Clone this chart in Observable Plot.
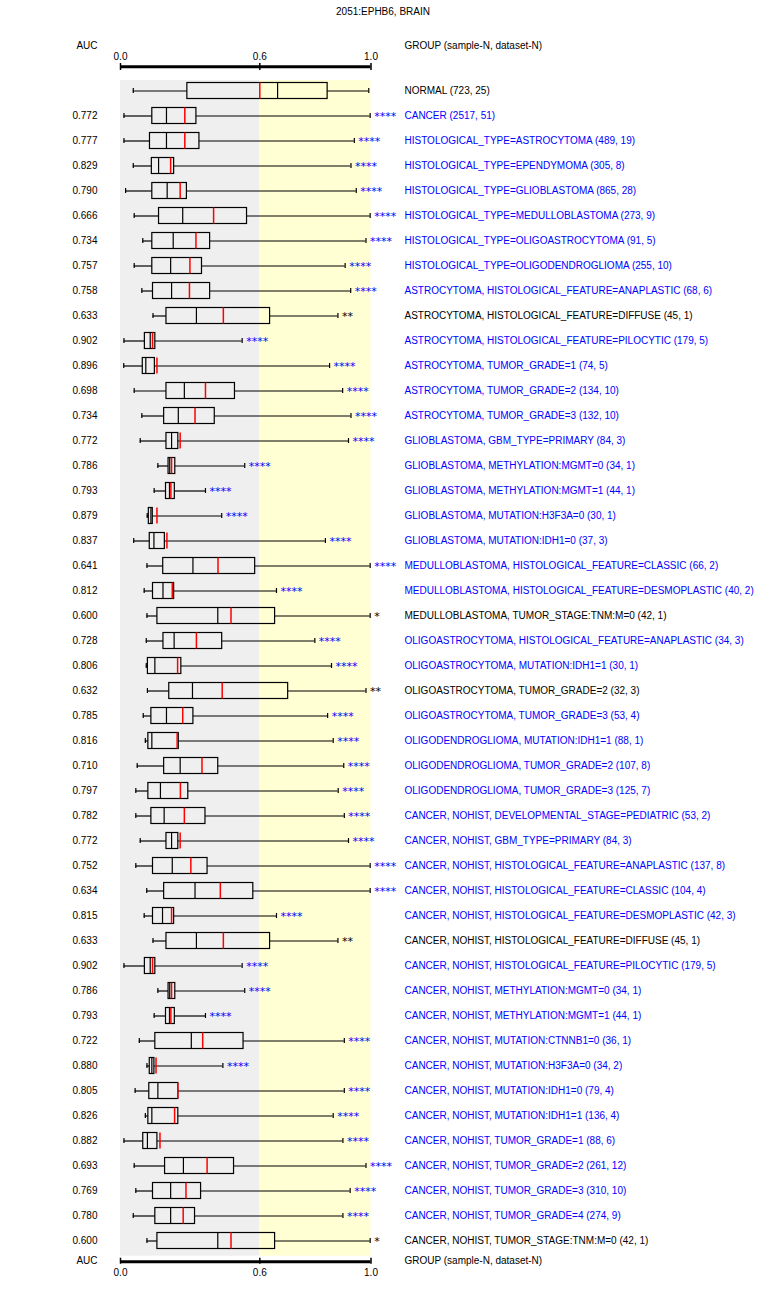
<!DOCTYPE html>
<html><head><meta charset="utf-8">
<script src="https://cdn.jsdelivr.net/npm/d3@7"></script>
<script src="https://cdn.jsdelivr.net/npm/@observablehq/plot@0.6"></script>
<style>
body{margin:0;background:#fff;font-family:"Liberation Sans",Arial,sans-serif;}
#title{height:24px;line-height:24px;text-align:center;font-size:10px;color:#000;width:766px;}
#chart svg{display:block;}
</style></head><body>
<div id="title">2051:EPHB6, BRAIN</div>
<div id="chart"></div>
<script>
const groups = [
  "NORMAL","CANCER",
  "HISTOLOGICAL_TYPE=ASTROCYTOMA","HISTOLOGICAL_TYPE=EPENDYMOMA","HISTOLOGICAL_TYPE=GLIOBLASTOMA",
  "HISTOLOGICAL_TYPE=MEDULLOBLASTOMA","HISTOLOGICAL_TYPE=OLIGOASTROCYTOMA","HISTOLOGICAL_TYPE=OLIGODENDROGLIOMA",
  "ASTROCYTOMA, HISTOLOGICAL_FEATURE=ANAPLASTIC","ASTROCYTOMA, HISTOLOGICAL_FEATURE=DIFFUSE",
  "ASTROCYTOMA, HISTOLOGICAL_FEATURE=PILOCYTIC","ASTROCYTOMA, TUMOR_GRADE=1","ASTROCYTOMA, TUMOR_GRADE=2",
  "ASTROCYTOMA, TUMOR_GRADE=3","GLIOBLASTOMA, GBM_TYPE=PRIMARY","GLIOBLASTOMA, METHYLATION:MGMT=0",
  "GLIOBLASTOMA, METHYLATION:MGMT=1","GLIOBLASTOMA, MUTATION:H3F3A=0","GLIOBLASTOMA, MUTATION:IDH1=0",
  "MEDULLOBLASTOMA, HISTOLOGICAL_FEATURE=CLASSIC","MEDULLOBLASTOMA, HISTOLOGICAL_FEATURE=DESMOPLASTIC",
  "MEDULLOBLASTOMA, TUMOR_STAGE:TNM:M=0","OLIGOASTROCYTOMA, HISTOLOGICAL_FEATURE=ANAPLASTIC",
  "OLIGOASTROCYTOMA, MUTATION:IDH1=1","OLIGOASTROCYTOMA, TUMOR_GRADE=2","OLIGOASTROCYTOMA, TUMOR_GRADE=3",
  "OLIGODENDROGLIOMA, MUTATION:IDH1=1","OLIGODENDROGLIOMA, TUMOR_GRADE=2","OLIGODENDROGLIOMA, TUMOR_GRADE=3",
  "CANCER, NOHIST, DEVELOPMENTAL_STAGE=PEDIATRIC","CANCER, NOHIST, GBM_TYPE=PRIMARY",
  "CANCER, NOHIST, HISTOLOGICAL_FEATURE=ANAPLASTIC","CANCER, NOHIST, HISTOLOGICAL_FEATURE=CLASSIC",
  "CANCER, NOHIST, HISTOLOGICAL_FEATURE=DESMOPLASTIC","CANCER, NOHIST, HISTOLOGICAL_FEATURE=DIFFUSE",
  "CANCER, NOHIST, HISTOLOGICAL_FEATURE=PILOCYTIC","CANCER, NOHIST, METHYLATION:MGMT=0",
  "CANCER, NOHIST, METHYLATION:MGMT=1","CANCER, NOHIST, MUTATION:CTNNB1=0","CANCER, NOHIST, MUTATION:H3F3A=0",
  "CANCER, NOHIST, MUTATION:IDH1=0","CANCER, NOHIST, MUTATION:IDH1=1","CANCER, NOHIST, TUMOR_GRADE=1",
  "CANCER, NOHIST, TUMOR_GRADE=2","CANCER, NOHIST, TUMOR_GRADE=3","CANCER, NOHIST, TUMOR_GRADE=4",
  "CANCER, NOHIST, TUMOR_STAGE:TNM:M=0"
];
const sampleN  = [723,2517,489,305,865,273,91,255,68,45,179,74,134,132,84,34,44,30,37,66,40,42,34,30,32,53,88,107,125,53,84,137,104,42,45,179,34,44,36,34,79,136,88,261,310,274,42];
const datasetN = [25,51,19,8,28,9,5,10,6,1,5,5,10,10,3,1,1,1,3,2,2,1,3,1,3,4,1,8,7,2,3,8,4,3,1,5,1,1,1,2,4,4,6,12,10,9,1];
const auc = [null,0.772,0.777,0.829,0.790,0.666,0.734,0.757,0.758,0.633,0.902,0.896,0.698,0.734,0.772,0.786,0.793,0.879,0.837,0.641,0.812,0.600,0.728,0.806,0.632,0.785,0.816,0.710,0.797,0.782,0.772,0.752,0.634,0.815,0.633,0.902,0.786,0.793,0.722,0.880,0.805,0.826,0.882,0.693,0.769,0.780,0.600];
const whiskerLow  = [0.055,0.015,0.015,0.055,0.022,0.059,0.096,0.059,0.092,0.140,0.015,0.014,0.059,0.092,0.085,0.161,0.145,0.115,0.057,0.114,0.102,0.114,0.111,0.111,0.116,0.098,0.107,0.072,0.066,0.066,0.085,0.066,0.113,0.102,0.140,0.015,0.161,0.145,0.081,0.114,0.063,0.107,0.015,0.059,0.066,0.055,0.114];
const quartile1   = [0.288,0.137,0.127,0.135,0.137,0.166,0.137,0.137,0.140,0.198,0.105,0.096,0.198,0.188,0.198,0.207,0.196,0.122,0.126,0.184,0.140,0.159,0.185,0.118,0.210,0.133,0.120,0.188,0.120,0.133,0.198,0.140,0.188,0.140,0.198,0.105,0.207,0.196,0.150,0.126,0.124,0.120,0.098,0.192,0.140,0.150,0.159];
const median      = [0.664,0.198,0.198,0.164,0.201,0.268,0.227,0.216,0.220,0.327,0.128,0.109,0.275,0.249,0.220,0.212,0.211,0.131,0.144,0.312,0.183,0.419,0.231,0.148,0.310,0.198,0.135,0.257,0.172,0.188,0.220,0.223,0.321,0.181,0.327,0.128,0.212,0.211,0.305,0.135,0.161,0.135,0.116,0.271,0.216,0.216,0.419];
const quartile3   = [0.844,0.327,0.340,0.231,0.286,0.545,0.386,0.351,0.386,0.637,0.150,0.148,0.493,0.406,0.249,0.236,0.234,0.139,0.191,0.580,0.231,0.655,0.438,0.262,0.702,0.314,0.251,0.421,0.292,0.366,0.249,0.375,0.572,0.231,0.637,0.150,0.236,0.234,0.530,0.146,0.249,0.249,0.159,0.489,0.347,0.321,0.655];
const whiskerHigh = [0.992,0.997,0.940,0.928,0.947,0.997,0.982,0.907,0.927,0.881,0.524,0.851,0.898,0.928,0.919,0.535,0.366,0.436,0.836,0.997,0.660,0.997,0.798,0.858,0.982,0.844,0.864,0.902,0.882,0.904,0.919,0.997,0.997,0.660,0.881,0.524,0.535,0.366,0.904,0.441,0.904,0.864,0.899,0.982,0.925,0.899,0.997];
const mean        = [0.600,0.277,0.277,0.216,0.257,0.401,0.325,0.299,0.297,0.443,0.138,0.157,0.366,0.321,0.257,0.220,0.217,0.157,0.200,0.420,0.223,0.476,0.327,0.246,0.438,0.268,0.244,0.351,0.258,0.275,0.257,0.303,0.430,0.220,0.443,0.138,0.220,0.217,0.354,0.153,0.247,0.233,0.170,0.373,0.282,0.270,0.476];
const stars = ["","****","****","****","****","****","****","****","****","**","****","****","****","****","****","****","****","****","****","****","****","*","****","****","**","****","****","****","****","****","****","****","****","****","**","****","****","****","****","****","****","****","****","****","****","****","*"];
const xTicks = [0, 0.6, 1.0];
const zoneColors = ["#efefef", "#ffffd3"];
const headerLeft = ["AUC"];
const headerRight = ["GROUP (sample-N, dataset-N)"];

const zones = [{x1: xTicks[0], x2: xTicks[1], fill: zoneColors[0]}, {x1: xTicks[1], x2: xTicks[2], fill: zoneColors[1]}];
const rows = groups.map((g, i) => ({
  label: `${g} (${sampleN[i]}, ${datasetN[i]})`,
  auc: auc[i], wl: whiskerLow[i], q1: quartile1[i], med: median[i], q3: quartile3[i], wh: whiskerHigh[i], mean: mean[i],
  stars: stars[i], color: stars[i] === "****" ? "#0000ff" : "#000000"
}));
const labels = rows.map(d => d.label);

const W = 766, H = 1281;
const chart = Plot.plot({
  width: W, height: H,
  marginLeft: 120, marginRight: W - 370.5, marginTop: 56, marginBottom: H - 1231.7,
  style: {fontFamily: "'Liberation Sans', Arial, sans-serif", fontSize: "10px", background: "#fff", color: "#000"},
  x: {type: "linear", domain: xTicks, range: [120, 259.3, 370.5], axis: null},
  y: {type: "band", domain: labels, range: [53.8, 1228.8], padding: 0, axis: null},
  color: {type: "identity"},
  marks: [
    Plot.rect(zones, {x1: "x1", x2: "x2", fill: "fill"}),
    Plot.ruleY([labels[0]], {dy: -24.3, strokeWidth: 3, stroke: "#000"}),
    Plot.ruleY([labels[labels.length - 1]], {dy: 20.7, strokeWidth: 3, stroke: "#000"}),
    Plot.axisX(xTicks, {anchor: "top", tickSize: 7, tickPadding: 3, tickFormat: d3.format(".1f"), dy: -11, strokeWidth: 1.5, label: null}),
    Plot.axisX(xTicks, {anchor: "bottom", tickSize: 6, tickPadding: 5, tickFormat: d3.format(".1f"), dy: 2, strokeWidth: 1.5, label: null}),
    Plot.text(headerLeft, {frameAnchor: "top-left", dx: -23, dy: -38.7, textAnchor: "end"}),
    Plot.text(headerRight, {frameAnchor: "top-right", dx: 33.5, dy: -38.7, textAnchor: "start"}),
    Plot.text(headerLeft, {frameAnchor: "bottom-left", dx: -23, dy: 7.5, textAnchor: "end"}),
    Plot.text(headerRight, {frameAnchor: "bottom-right", dx: 33.5, dy: 7.5, textAnchor: "start"}),
    Plot.ruleY(rows, {y: "label", x1: "wl", x2: "q1", stroke: "#000", strokeWidth: 1.2}),
    Plot.ruleY(rows, {y: "label", x1: "q3", x2: "wh", stroke: "#000", strokeWidth: 1.2}),
    Plot.tickX(rows, {y: "label", x: "wl", stroke: "#000", strokeWidth: 1.2, insetTop: 10, insetBottom: 10}),
    Plot.tickX(rows, {y: "label", x: "wh", stroke: "#000", strokeWidth: 1.2, insetTop: 10, insetBottom: 10}),
    Plot.barX(rows, {y: "label", x1: "q1", x2: "q3", fill: "none", stroke: "#000", strokeWidth: 1.2, insetTop: 4.5, insetBottom: 4.5}),
    Plot.tickX(rows, {y: "label", x: "med", stroke: "#000", strokeWidth: 1.2, insetTop: 4.5, insetBottom: 4.5}),
    Plot.tickX(rows, {y: "label", x: "mean", stroke: "#ff0000", strokeWidth: 1.5, insetTop: 4.5, insetBottom: 4.5}),
    Plot.text(rows.filter(d => d.auc != null), {y: "label", text: d => d.auc.toFixed(3), frameAnchor: "left", dx: -23, textAnchor: "end"}),
    Plot.text(rows, {y: "label", text: "label", frameAnchor: "right", dx: 33.5, textAnchor: "start", fill: "color"}),
    Plot.text(rows.filter(d => d.stars), {y: "label", x: "wh", text: "stars", dx: 4, dy: 0.5, textAnchor: "start", fill: "color", fontFamily: "DejaVu Sans", fontSize: 11})
  ]
});
document.getElementById("chart").appendChild(chart);
</script>
</body></html>
